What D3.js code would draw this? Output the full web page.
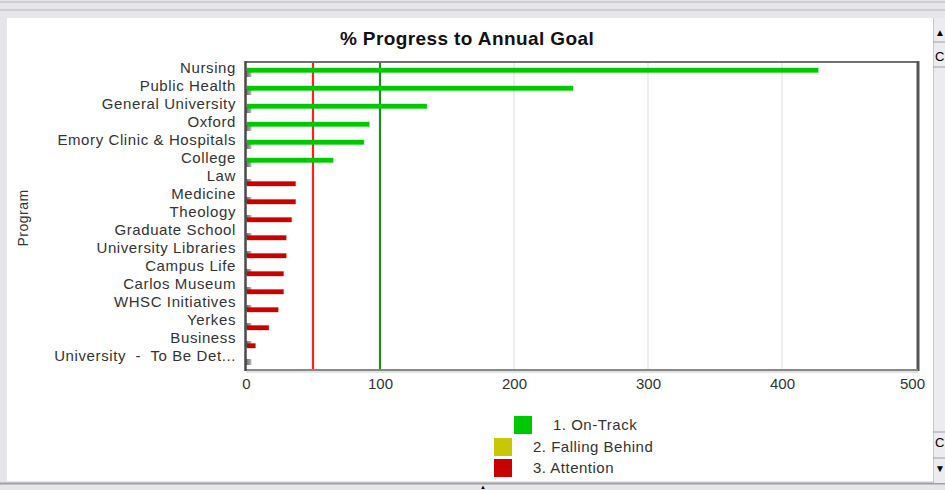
<!DOCTYPE html>
<html><head><meta charset="utf-8">
<script src="https://cdn.jsdelivr.net/npm/d3@7"></script>
<style>
html,body{margin:0;padding:0;background:#e6e6ea;}
svg{display:block;font-family:"Liberation Sans",Arial,sans-serif;}
text{white-space:pre;}
</style></head>
<body>
<svg id="c" width="945" height="490"></svg>
<script>
const categories = ["Nursing","Public Health","General University","Oxford","Emory Clinic & Hospitals","College","Law","Medicine","Theology","Graduate School","University Libraries","Campus Life","Carlos Museum","WHSC Initiatives","Yerkes","Business","University  -  To Be Det..."];
const onTrack   = [427,244,135,92,88,65,0,0,0,0,0,0,0,0,0,0,0];
const attention = [0,0,0,0,0,0,37,37,34,30,30,28,28,24,17,7,0];
const baseline  = [4,4,4,4,4,4,4,4,4,4,4,4,4,4,4,4,4];
const xTicks = [0,100,200,300,400,500];
const refLines = [{value:50,color:"#ff2020"},{value:100,color:"#1e8c1e"}];
const legendItems = [{label:"1. On-Track",color:"#00c800"},{label:"2. Falling Behind",color:"#c8c800"},{label:"3. Attention",color:"#c80000"}];

const svg = d3.select("#c");
// window chrome
svg.append("rect").attr("x",0).attr("y",0).attr("width",945).attr("height",490).attr("fill","#e6e6ea");
svg.append("line").attr("x1",0).attr("x2",945).attr("y1",2).attr("y2",2).attr("stroke","#b8b8bc");
svg.append("line").attr("x1",0).attr("x2",945).attr("y1",10).attr("y2",10).attr("stroke","#b8b8bc");
svg.append("rect").attr("x",7).attr("y",18).attr("width",926).attr("height",463).attr("fill","#fff");
svg.append("line").attr("x1",0).attr("x2",945).attr("y1",483.5).attr("y2",483.5).attr("stroke","#a0a0a4").attr("stroke-width",2);
svg.append("rect").attr("x",933).attr("y",18).attr("width",12).attr("height",465).attr("fill","#ececf0");
svg.append("line").attr("x1",933.5).attr("x2",933.5).attr("y1",18).attr("y2",483).attr("stroke","#c8c8cc");
[42,67,432,458].forEach(y=>svg.append("line").attr("x1",933).attr("x2",945).attr("y1",y).attr("y2",y).attr("stroke","#a0a0a4"));
svg.append("text").attr("x",935).attr("y",36).attr("font-size",10).attr("fill","#000").text("▲");
svg.append("text").attr("x",935).attr("y",61).attr("font-size",13).attr("fill","#000").text("C");
svg.append("text").attr("x",935).attr("y",447).attr("font-size",13).attr("fill","#000").text("C");
svg.append("text").attr("x",935).attr("y",472).attr("font-size",10).attr("fill","#000").text("▼");
svg.append("text").attr("x",480).attr("y",489).attr("font-size",6).attr("fill","#000").text("▲");

const L=246, R=918, T=62, B=370;
const x = d3.scaleLinear().domain([0,500]).range([L,R-2]);
const y = d3.scaleBand().domain(categories).range([T,T+18*categories.length]).padding(0);

// gridlines
svg.append("g").selectAll("line").data(xTicks.filter(d=>d>0&&d<500)).join("line")
  .attr("x1",d=>x(d)).attr("x2",d=>x(d)).attr("y1",T).attr("y2",B).attr("stroke","#dcdcdc").attr("stroke-width",1);

// title
svg.append("text").attr("x",467).attr("y",45).attr("text-anchor","middle")
  .attr("font-size",19).attr("font-weight","bold").attr("letter-spacing",0.4).attr("fill","#111")
  .text("% Progress to Annual Goal");

// y axis title
svg.append("text").attr("transform","translate(28,218) rotate(-90)").attr("text-anchor","middle")
  .attr("font-size",14).attr("letter-spacing",0.5).attr("fill","#333").text("Program");

// reference lines
svg.append("g").selectAll("line").data(refLines).join("line")
  .attr("x1",d=>x(d.value)).attr("x2",d=>x(d.value)).attr("y1",T).attr("y2",B)
  .attr("stroke",d=>d.color).attr("stroke-width",2.2);

const idx = d3.range(categories.length);
// grey stubs
const grad = svg.append("defs").append("linearGradient").attr("id","gg").attr("x1",0).attr("x2",1);
grad.append("stop").attr("offset","0%").attr("stop-color","#6a6a6a");
grad.append("stop").attr("offset","100%").attr("stop-color","#b8b8b8");
svg.append("g").selectAll("rect").data(idx).join("rect")
  .attr("x",x(0)).attr("y",i=>y(categories[i])+9).attr("height",6)
  .attr("width",i=>x(baseline[i])-x(0)).attr("fill","url(#gg)");

// bars
svg.append("g").selectAll("rect").data(idx.filter(i=>onTrack[i]>0)).join("rect")
  .attr("x",x(0)+1).attr("y",i=>y(categories[i])+6).attr("height",4.5)
  .attr("width",i=>x(onTrack[i])-x(0)-1)
  .attr("fill","#00c800").attr("stroke","rgba(0,210,0,0.35)").attr("stroke-width",1.2);
svg.append("g").selectAll("rect").data(idx.filter(i=>attention[i]>0)).join("rect")
  .attr("x",x(0)+1).attr("y",i=>y(categories[i])+11.5).attr("height",4.5)
  .attr("width",i=>x(attention[i])-x(0)-1)
  .attr("fill","#c80000").attr("stroke","rgba(220,0,0,0.3)").attr("stroke-width",1.2);

// frame
svg.append("line").attr("x1",L).attr("x2",R).attr("y1",T).attr("y2",T).attr("stroke","#707070").attr("stroke-width",2);
svg.append("line").attr("x1",R).attr("x2",R).attr("y1",T-1).attr("y2",B+1).attr("stroke","#555").attr("stroke-width",3);
svg.append("line").attr("x1",L).attr("x2",R).attr("y1",B).attr("y2",B).attr("stroke","#888").attr("stroke-width",2);
svg.append("line").attr("x1",L).attr("x2",R).attr("y1",B+2).attr("y2",B+2).attr("stroke","#d8d8d8").attr("stroke-width",1.5);
svg.append("line").attr("x1",L-0.5).attr("x2",L-0.5).attr("y1",T-1).attr("y2",B+1).attr("stroke","#4a4a4a").attr("stroke-width",2.5);

// y axis labels
const yAxis = d3.axisLeft(y).tickSize(0).tickPadding(10);
const gy = svg.append("g").attr("transform",`translate(${L},0)`).call(yAxis);
gy.select(".domain").remove();
gy.selectAll("text").attr("font-size",15).attr("letter-spacing",0.6).attr("fill","#333")
  .attr("font-family","Liberation Sans, Arial, sans-serif").attr("dy","0.1em");

// x axis labels
const xAxis = d3.axisBottom(x).tickValues(xTicks).tickSize(0).tickPadding(8);
const gx = svg.append("g").attr("transform",`translate(0,${B})`).call(xAxis);
gx.select(".domain").remove();
gx.selectAll("text").attr("font-size",15).attr("fill","#333")
  .attr("font-family","Liberation Sans, Arial, sans-serif")
  .attr("dx",d=>d===500?-4:0);

// legend
const lg = svg.append("g");
const lpos = [{sx:514,tx:553,y:416},{sx:494,tx:533,y:438},{sx:494,tx:533,y:459}];
lg.selectAll("rect").data(legendItems).join("rect")
  .attr("x",(d,i)=>lpos[i].sx).attr("y",(d,i)=>lpos[i].y).attr("width",18).attr("height",18).attr("fill",d=>d.color);
lg.selectAll("text").data(legendItems).join("text")
  .attr("x",(d,i)=>lpos[i].tx).attr("y",(d,i)=>lpos[i].y+14).attr("font-size",15).attr("letter-spacing",0.5)
  .attr("fill","#333").text(d=>d.label);
</script>
</body></html>
